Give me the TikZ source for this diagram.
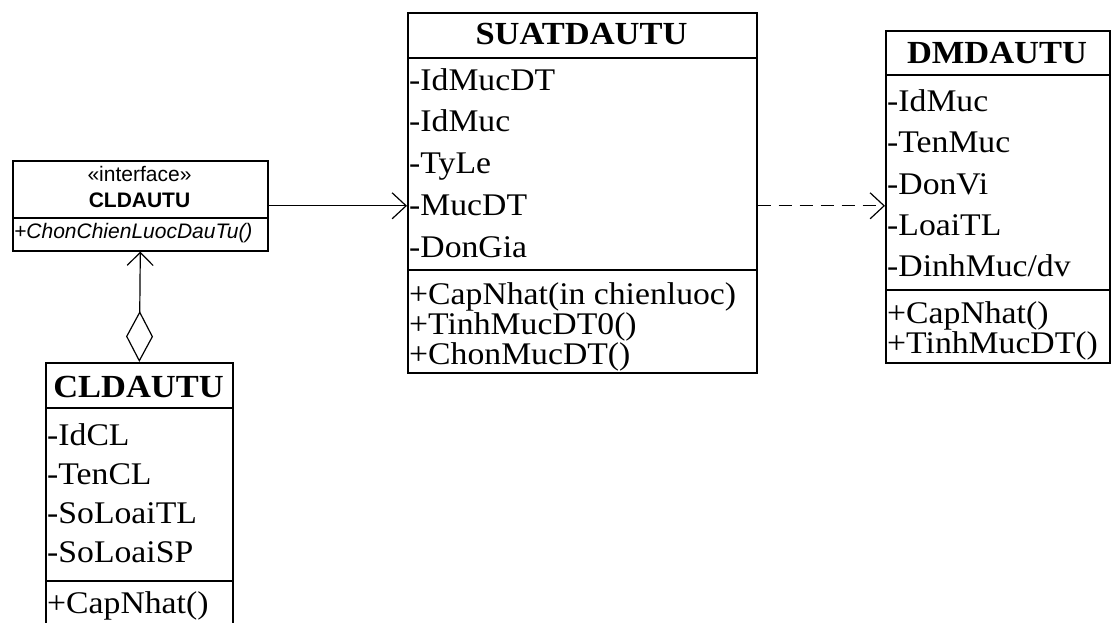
\documentclass[tikz,border=0pt]{standalone}
\usepackage{fontspec}
\setmainfont{Liberation Serif}[FakeStretch=1.07]
\newfontfamily\arialf{Liberation Sans}
\usetikzlibrary{arrows.meta}
\begin{document}
\begin{tikzpicture}[x=1pt,y=-1pt,
  classbox/.style={draw, line width=1.6pt, anchor=north west, inner sep=0pt},
  sepline/.style={line width=1.6pt},
  attr/.style={anchor=base west, inner sep=0pt, font=\fontsize{31.5}{36}\selectfont},
  ctitle/.style={anchor=base, inner sep=0pt, font=\fontsize{32.2}{37}\selectfont\bfseries},
  itext/.style={inner sep=0pt, font=\arialf\fontsize{21}{25}\selectfont},
  conn/.style={line width=1.2pt},
  opentip/.style={-{Straight Barb[length=14pt,width=26pt]}},
  dashpat/.style={dash pattern=on 13pt off 8pt}
]
\useasboundingbox (0,0) rectangle (1113,622);

% ---------- interface CLDAUTU ----------
\node[classbox, minimum width=255pt, minimum height=90pt] (iface) at (12,160) {};
\draw[sepline] (iface.west |- 0,218) -- (iface.east |- 0,218);
\node[itext, anchor=base] (ist) at (139.5,181) {«interface»};
\node[itext, anchor=base, font=\arialf\fontsize{21}{25}\selectfont\bfseries] (inm) at (139.5,207.5) {CLDAUTU};
\node[itext, anchor=base west] (iop) at (14,238) {\itshape +ChonChienLuocDauTu()};

% ---------- SUATDAUTU ----------
\node[classbox, minimum width=349pt, minimum height=360pt] (suat) at (407,12) {};
\draw[sepline] (suat.west |- 0,58) -- (suat.east |- 0,58);
\draw[sepline] (suat.west |- 0,270) -- (suat.east |- 0,270);
\node[ctitle] (st) at (581.5,44) {SUATDAUTU};
\node[attr] (s1) at (409,90.5) {-IdMucDT};
\node[attr] (s2) at (409,131.5) {-IdMuc};
\node[attr] (s3) at (409,173.5) {-TyLe};
\node[attr] (s4) at (409,215.5) {-MucDT};
\node[attr] (s5) at (409,257.5) {-DonGia};
\node[attr] (s6) at (409,304.5) {+CapNhat(in chienluoc)};
\node[attr] (s7) at (409,334.5) {+TinhMucDT0()};
\node[attr] (s8) at (409,364.5) {+ChonMucDT()};

% ---------- DMDAUTU ----------
\node[classbox, minimum width=224pt, minimum height=332pt] (dm) at (885,30) {};
\draw[sepline] (dm.west |- 0,75) -- (dm.east |- 0,75);
\draw[sepline] (dm.west |- 0,290) -- (dm.east |- 0,290);
\node[ctitle] (dt) at (997,63) {DMDAUTU};
\node[attr] (d1) at (887,111.5) {-IdMuc};
\node[attr] (d2) at (887,152.5) {-TenMuc};
\node[attr] (d3) at (887,194.5) {-DonVi};
\node[attr] (d4) at (887,235.5) {-LoaiTL};
\node[attr] (d5) at (887,276.5) {-DinhMuc/dv};
\node[attr] (d6) at (887,323.5) {+CapNhat()};
\node[attr] (d7) at (887,353.5) {+TinhMucDT()};

% ---------- CLDAUTU (class) ----------
\node[classbox, minimum width=187pt, minimum height=280pt] (cl) at (45,362) {};
\draw[sepline] (cl.west |- 0,408) -- (cl.east |- 0,408);
\draw[sepline] (cl.west |- 0,581) -- (cl.east |- 0,581);
\node[ctitle] (ct) at (138.5,397.5) {CLDAUTU};
\node[attr] (c1) at (47,445.5) {-IdCL};
\node[attr] (c2) at (47,484.5) {-TenCL};
\node[attr] (c3) at (47,523.5) {-SoLoaiTL};
\node[attr] (c4) at (47,562.5) {-SoLoaiSP};
\node[attr] (c5) at (47,613) {+CapNhat()};

% ---------- connectors ----------
\draw[conn, opentip] (iface.east) -- (iface.east -| suat.west);
\draw[conn, dashpat, opentip] (suat.east |- iface.east) -- (dm.west |- iface.east);
\draw[conn, {Diamond[open,length=51pt,width=27pt]}-{Straight Barb[length=13pt,width=26pt]}] (cl.north) -- (iface.south);
\end{tikzpicture}
\end{document}
